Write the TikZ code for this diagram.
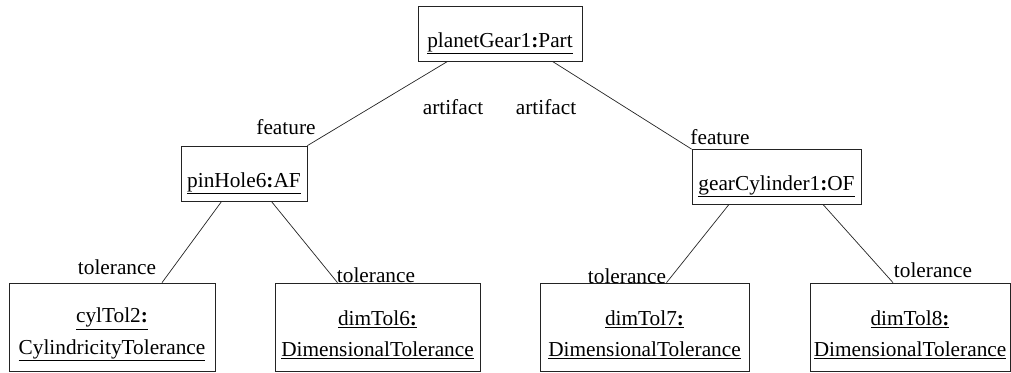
\documentclass[tikz,border=0pt]{standalone}
\usepackage{fontspec}
\setmainfont{Liberation Serif}
\usepackage{tikz}
\usetikzlibrary{positioning,calc}
\definecolor{boxline}{RGB}{35,35,35}
\newcommand{\objname}[2]{\underline{#1\textbf{:}#2}}

\begin{document}
\begin{tikzpicture}[x=1pt, y=-1pt,
    font=\fontsize{21.3}{25.5}\selectfont,
    objbox/.style={draw=boxline, line width=0.7pt, inner sep=0pt, text height=41pt, text depth=14pt},
    tolbox/.style={draw=boxline, line width=0.7pt, inner sep=0pt, minimum height=88pt, align=center},
    link/.style={draw=boxline, line width=0.7pt},
    role/.style={inner sep=0pt}]
    % Picture frame
    \useasboundingbox (0,0) rectangle (1011,372);

    % Object boxes
    \node[objbox, minimum width=164pt] (gear) at (500,33.5) {\objname{planetGear1}{Part}};
    \node[objbox, minimum width=126pt] (pin) at (244,173.5) {\objname{pinHole6}{AF}};
    \node[objbox, minimum width=169pt] (cyl) at (776.5,177) {\objname{gearCylinder1}{OF}};

    % Tolerance boxes
    \node[tolbox, minimum width=206pt] (cyltol) at (112,327)
        {\rule{0pt}{30pt}\objname{cylTol2}{}\\[6pt]\underline{CylindricityTolerance}};
    \node[tolbox, minimum width=205pt] (dimtolA) at (377.5,327)
        {\rule{0pt}{30pt}\objname{dimTol6}{}\\[6pt]\underline{DimensionalTolerance}};
    \node[tolbox, minimum width=209pt] (dimtolB) at (644.5,327)
        {\rule{0pt}{30pt}\objname{dimTol7}{}\\[6pt]\underline{DimensionalTolerance}};
    \node[tolbox, minimum width=200pt] (dimtolC) at (910,327)
        {\rule{0pt}{30pt}\objname{dimTol8}{}\\[6pt]\underline{DimensionalTolerance}};

    % Links
    \draw[link] ([xshift=30pt]gear.south west) -- (pin.north east);
    \draw[link] ([xshift=-30pt]gear.south east) -- (cyl.north west);
    \draw[link] ([xshift=41pt]pin.south west) -- ([xshift=50pt]cyltol.north);
    \draw[link] ([xshift=-36pt]pin.south east) -- ([xshift=-40pt]dimtolA.north);
    \draw[link] ([xshift=37pt]cyl.south west) -- ([xshift=22pt]dimtolB.north);
    \draw[link] ([xshift=-38pt]cyl.south east) -- ([xshift=-17pt]dimtolC.north);

    % Role names
    \node[role] (featA) at (286,127) {feature};
    \node[role] (artA) at (453,107) {artifact};
    \node[role] (artB) at (546,107) {artifact};
    \node[role] (featB) at (720,137) {feature};
    \node[role] (tolA) at (117,267) {tolerance};
    \node[role] (tolB) at (376,275) {tolerance};
    \node[role] (tolC) at (627,276) {tolerance};
    \node[role] (tolD) at (933,270) {tolerance};
\end{tikzpicture}
\end{document}
